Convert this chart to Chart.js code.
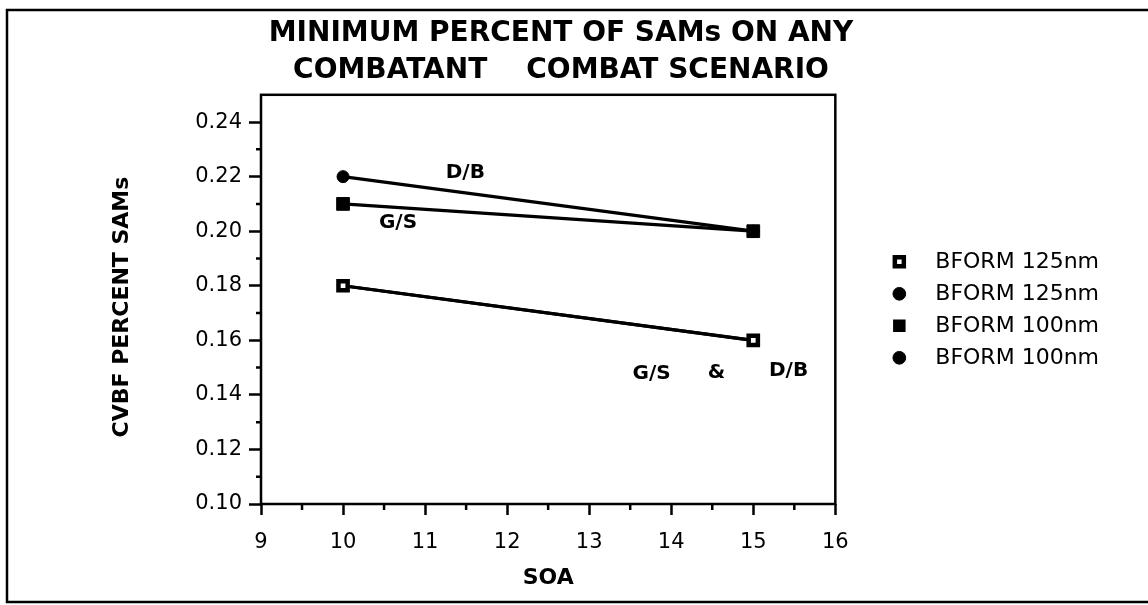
<!DOCTYPE html>
<html>
<head>
<meta charset="utf-8">
<script src="https://cdn.jsdelivr.net/npm/chart.js@4/dist/chart.umd.min.js"></script>
<style>
  html, body { margin: 0; padding: 0; background: #fff; }
  #box { width: 1148px; height: 605px; position: relative; }
</style>
</head>
<body>
<div id="box"><canvas id="grafico"></canvas></div>
<script>
// dados
const soaValues = [10, 15];
const form125SquareValues = [0.18, 0.16];
const form125CircleValues = [0.22, 0.20];
const form100SquareValues = [0.21, 0.20];
const form100CircleValues = [0.18, 0.16];
const seriesLabels = ["BFORM 125nm", "BFORM 125nm", "BFORM 100nm", "BFORM 100nm"];

const yMajorTicks = [0.10, 0.12, 0.14, 0.16, 0.18, 0.20, 0.22, 0.24];
const yMinorTicks = [0.11, 0.13, 0.15, 0.17, 0.19, 0.21, 0.23];
const xMinorTicks = [9.5, 10.5, 11.5, 12.5, 13.5, 14.5, 15.5];

// rótulos soltos dentro do gráfico (em unidades dos eixos)
const noteTexts = ["D/B", "G/S", "G/S", "&", "D/B"];
const noteX = [11.49, 10.67, 13.76, 14.55, 15.43];
const noteY = [0.2213, 0.2029, 0.1478, 0.148, 0.1489];

const FONTE = "DejaVu Sans";

function pares(valores) {
  return soaValues.map((x, i) => ({ x: x, y: valores[i] }));
}

// moldura, caixa do gráfico, tiques menores e anotações
const extras = {
  id: "extras",
  beforeDraw(chart) {
    const ctx = chart.ctx;
    ctx.save();
    ctx.fillStyle = "#fff";
    ctx.fillRect(0, 0, chart.width, chart.height);
    ctx.strokeStyle = "#000";
    ctx.lineWidth = 2.5;
    ctx.beginPath();
    ctx.moveTo(chart.width, 10);
    ctx.lineTo(7, 10);
    ctx.lineTo(7, 602);
    ctx.lineTo(chart.width, 602);
    ctx.stroke();
    ctx.restore();
  },
  beforeDatasetsDraw(chart) {
    const ctx = chart.ctx;
    const ca = chart.chartArea;
    const sx = chart.scales.x, sy = chart.scales.y;
    ctx.save();
    ctx.strokeStyle = "#000";
    ctx.lineWidth = 2.5;
    ctx.strokeRect(ca.left, ca.top, ca.right - ca.left, ca.bottom - ca.top);
    ctx.beginPath();
    yMinorTicks.forEach(v => {
      const py = sy.getPixelForValue(v);
      ctx.moveTo(ca.left - 5, py);
      ctx.lineTo(ca.left, py);
    });
    xMinorTicks.forEach(v => {
      const px = sx.getPixelForValue(v);
      ctx.moveTo(px, ca.bottom);
      ctx.lineTo(px, ca.bottom + 6);
    });
    ctx.stroke();
    ctx.restore();
  },
  afterDatasetsDraw(chart) {
    const ctx = chart.ctx;
    const sx = chart.scales.x, sy = chart.scales.y;
    ctx.save();
    ctx.fillStyle = "#000";
    ctx.font = "bold 20px '" + FONTE + "'";
    ctx.textAlign = "center";
    ctx.textBaseline = "middle";
    noteTexts.forEach((t, i) => {
      ctx.fillText(t, sx.getPixelForValue(noteX[i]), sy.getPixelForValue(noteY[i]));
    });
    ctx.restore();
  }
};

const ctx = document.getElementById("grafico").getContext("2d");

new Chart(ctx, {
  type: "line",
  data: {
    datasets: [
      {
        label: seriesLabels[0], data: pares(form125SquareValues), order: 0,
        borderColor: "#000", borderWidth: 3.2,
        pointStyle: "rect", pointRadius: 6.5, pointBorderWidth: 4.5,
        pointBackgroundColor: "#fff", pointBorderColor: "#000"
      },
      {
        label: seriesLabels[1], data: pares(form125CircleValues), order: 2,
        borderColor: "#000", borderWidth: 3.2,
        pointStyle: "circle", pointRadius: 6, pointBorderWidth: 1,
        pointBackgroundColor: "#000", pointBorderColor: "#000"
      },
      {
        label: seriesLabels[2], data: pares(form100SquareValues), order: 1,
        borderColor: "#000", borderWidth: 3.2,
        pointStyle: "rect", pointRadius: 9, pointBorderWidth: 1,
        pointBackgroundColor: "#000", pointBorderColor: "#000"
      },
      {
        label: seriesLabels[3], data: pares(form100CircleValues), order: 3,
        borderColor: "#000", borderWidth: 3.2,
        pointStyle: "circle", pointRadius: 5, pointBorderWidth: 1,
        pointBackgroundColor: "#000", pointBorderColor: "#000"
      }
    ]
  },
  options: {
    responsive: true,
    maintainAspectRatio: false,
    animation: false,
    events: [],
    layout: { padding: { left: 13, right: 39, top: 0, bottom: 0 } },
    elements: { line: { tension: 0 } },
    plugins: {
      tooltip: { enabled: false },
      title: {
        display: true,
        text: ["MINIMUM PERCENT OF SAMs ON ANY", "COMBATANT    COMBAT SCENARIO"],
        color: "#000",
        font: { family: FONTE, size: 28, weight: "bold", lineHeight: 1.3 },
        padding: { top: 16, bottom: 6 }
      },
      legend: {
        position: "right",
        align: "start",
        fullSize: false,
        maxWidth: 400,
        title: { display: true, text: " ", font: { size: 10 }, padding: { top: 0, bottom: 134 } },
        labels: {
          usePointStyle: true,
          boxWidth: 22,
          boxHeight: 9,
          padding: 10,
          color: "#000",
          font: { family: FONTE, size: 22 },
          sort: (a, b) => a.datasetIndex - b.datasetIndex,
          generateLabels: (chart) => {
            const itens = Chart.defaults.plugins.legend.labels.generateLabels(chart);
            itens.forEach(it => {
              it.text = "  " + it.text;
              // o quadrado cheio da legenda é um pouco maior
              if (it.datasetIndex === 2) it.lineWidth = 3.5;
            });
            return itens;
          }
        }
      }
    },
    scales: {
      x: {
        type: "linear", min: 9, max: 16,
        afterFit: (s) => { s.height = 101; },
        border: { display: false },
        grid: { display: true, drawOnChartArea: false, drawTicks: true, tickLength: 11, tickColor: "#000", tickWidth: 2.5 },
        ticks: { stepSize: 1, padding: 15, maxRotation: 0, color: "#000", font: { family: FONTE, size: 21 } },
        title: { display: true, text: "SOA", color: "#000", font: { family: FONTE, size: 22, weight: "bold" }, padding: { top: 0, bottom: 14 } }
      },
      y: {
        type: "linear", min: 0.10, max: 0.25,
        afterBuildTicks: (s) => { s.ticks = yMajorTicks.map(v => ({ value: v })); },
        afterFit: (s) => { s.width = 248; },
        border: { display: false },
        grid: { display: true, drawOnChartArea: false, drawTicks: true, tickLength: 12, tickColor: "#000", tickWidth: 2.5 },
        ticks: { padding: 7, color: "#000", font: { family: FONTE, size: 21 }, callback: (v) => Number(v).toFixed(2) },
        title: { display: true, text: "CVBF PERCENT SAMs  ", color: "#000", font: { family: FONTE, size: 22, weight: "bold" }, padding: { top: 96, bottom: 0 } }
      },
      espaco: {
        type: "linear", position: "right", display: true,
        afterFit: (s) => { s.width = 43; },
        border: { display: false },
        grid: { display: false },
        ticks: { display: false }
      }
    }
  },
  plugins: [extras]
});
</script>
</body>
</html>
